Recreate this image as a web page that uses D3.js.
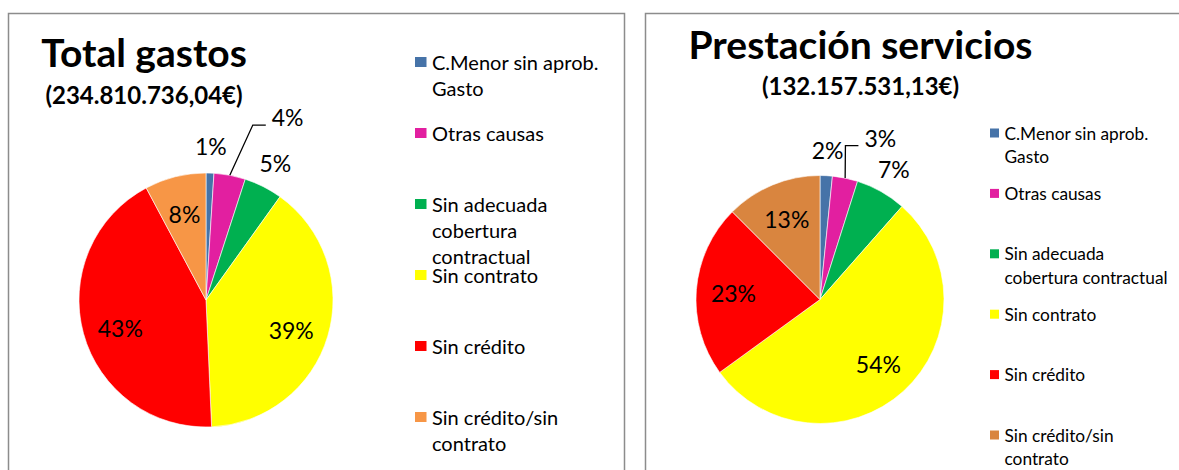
<!DOCTYPE html>
<html>
<head>
<meta charset="utf-8">
<script src="https://cdn.jsdelivr.net/npm/d3@7"></script>
<style>
  html, body { margin: 0; padding: 0; background: #fff; }
  svg { display: block; }
  text { font-family: Lato, "Open Sans", sans-serif; fill: #000; }
</style>
</head>
<body>
<svg id="chart" width="1179" height="470"></svg>
<script>
// ---- data ----
const categories = [
  "C.Menor sin aprob. Gasto",
  "Otras causas",
  "Sin adecuada cobertura contractual",
  "Sin contrato",
  "Sin crédito",
  "Sin crédito/sin contrato"
];
const titles = ["Total gastos", "Prestación servicios"];
const subtitles = ["(234.810.736,04€)", "(132.157.531,13€)"];
const totalGastosValues = [1.0, 4.0, 4.9, 39.4, 42.9, 7.8];        // %
const prestacionServiciosValues = [1.6, 3.3, 6.6, 53.5, 22.5, 12.5]; // %

// ---- styles / layout ----
const colorsTotal = ["#4673a8", "#e21fa0", "#00b050", "#ffff00", "#ff0000", "#f79646"];
const colorsServ  = ["#4673a8", "#e21fa0", "#00b050", "#ffff00", "#ff0000", "#d9853f"];

const svg = d3.select("#chart");

// panel frames
svg.append("path").attr("d", "M8.5,470 V13.5 H624.5 V470")
  .attr("fill", "none").attr("stroke", "#8c8c8c").attr("stroke-width", 1.5);
svg.append("path").attr("d", "M645.5,470 V13.5 H1185")
  .attr("fill", "none").attr("stroke", "#8c8c8c").attr("stroke-width", 1.5);

const charts = [
  {
    values: totalGastosValues, colors: colorsTotal,
    title: titles[0], subtitle: subtitles[0],
    cx: 206, cy: 300, r: 127,
    titleX: 144, titleY: 67, titleSize: 39,
    subY: 104, subSize: 24,
    legX: 415, legY: 62, legStep: 71, legLine: 26, legSize: 20, legMax: 180, sqW: 11.5, sqH: 10,
    pctSize: 23, inDy: 5, leaderShift: [37, -32]
  },
  {
    values: prestacionServiciosValues, colors: colorsServ,
    title: titles[1], subtitle: subtitles[1],
    cx: 820, cy: 299.5, r: 124,
    titleX: 860.5, titleY: 59, titleSize: 39,
    subY: 95, subSize: 24,
    legX: 990, legY: 133, legStep: 60.4, legLine: 23.5, legSize: 17.3, legMax: 172, sqW: 9, sqH: 9,
    pctSize: 23, inDy: 0, leaderShift: [14, -15]
  }
];

const measurer = svg.append("text").attr("visibility", "hidden");
function textWidth(str, size) {
  measurer.attr("font-size", size).text(str);
  return measurer.node().getComputedTextLength();
}
function wrap(str, size, max) {
  const words = str.split(" ");
  const lines = [];
  let cur = "";
  words.forEach(w => {
    const test = cur ? cur + " " + w : w;
    if (cur && textWidth(test, size) > max) { lines.push(cur); cur = w; }
    else cur = test;
  });
  if (cur) lines.push(cur);
  return lines;
}

charts.forEach(c => {
  const g = svg.append("g");

  // titles
  g.append("text").attr("x", c.titleX).attr("y", c.titleY)
    .attr("text-anchor", "middle").attr("font-weight", "bold")
    .attr("font-size", c.titleSize).text(c.title);
  g.append("text").attr("x", c.titleX).attr("y", c.subY)
    .attr("text-anchor", "middle").attr("font-weight", "bold")
    .attr("font-size", c.subSize).text(c.subtitle);

  // pie
  const pie = d3.pie().sort(null).value(d => d).startAngle(0).endAngle(2 * Math.PI);
  const arcs = pie(c.values);
  const arc = d3.arc().innerRadius(0).outerRadius(c.r);
  const inArc = d3.arc().innerRadius(c.r * 0.7).outerRadius(c.r * 0.7);
  const outArc = d3.arc().innerRadius(c.r * 1.21).outerRadius(c.r * 1.21);
  const edgeArc = d3.arc().innerRadius(c.r).outerRadius(c.r);

  const pg = g.append("g").attr("transform", `translate(${c.cx},${c.cy})`);
  pg.selectAll("path.slice").data(arcs).join("path")
    .attr("class", "slice")
    .attr("d", arc)
    .attr("fill", (d, i) => c.colors[i])
    .attr("stroke", "#ffffff").attr("stroke-width", 0.6);

  arcs.forEach((d, i) => {
    const label = Math.round(c.values[i]) + "%";
    if (c.values[i] >= 7.5) {
      const [x, y] = inArc.centroid(d);
      pg.append("text").attr("x", x).attr("y", y + (c.values[i] > 30 ? c.inDy : 0))
        .attr("text-anchor", "middle").attr("dominant-baseline", "central")
        .attr("font-size", c.pctSize).text(label);
    } else if (i === 1) {
      const [ox, oy] = outArc.centroid(d);
      const lx = ox + c.leaderShift[0], ly = oy + c.leaderShift[1];
      const [ex, ey] = edgeArc.centroid(d);
      pg.append("path")
        .attr("d", `M${ex},${ey} L${lx - 19},${ly + 8} L${lx - 6},${ly + 8}`)
        .attr("fill", "none").attr("stroke", "#000").attr("stroke-width", 1.3);
      pg.append("text").attr("x", lx).attr("y", ly)
        .attr("text-anchor", "start").attr("dominant-baseline", "central")
        .attr("font-size", c.pctSize).text(label);
    } else {
      const [x, y] = outArc.centroid(d);
      pg.append("text").attr("x", x).attr("y", y)
        .attr("text-anchor", "middle").attr("dominant-baseline", "central")
        .attr("font-size", c.pctSize).text(label);
    }
  });

  // legend
  const lg = g.append("g");
  categories.forEach((name, i) => {
    const y = c.legY + i * c.legStep;
    lg.append("rect").attr("x", c.legX).attr("y", y - c.sqH / 2)
      .attr("width", c.sqW).attr("height", c.sqH).attr("fill", c.colors[i]);
    const lines = wrap(name, c.legSize, c.legMax);
    const t = lg.append("text").attr("font-size", c.legSize);
    lines.forEach((ln, j) => {
      t.append("tspan").attr("x", c.legX + c.sqW + 5.5).attr("y", y + j * c.legLine)
        .attr("dominant-baseline", "central").text(ln);
    });
  });
});
measurer.remove();
</script>
</body>
</html>
